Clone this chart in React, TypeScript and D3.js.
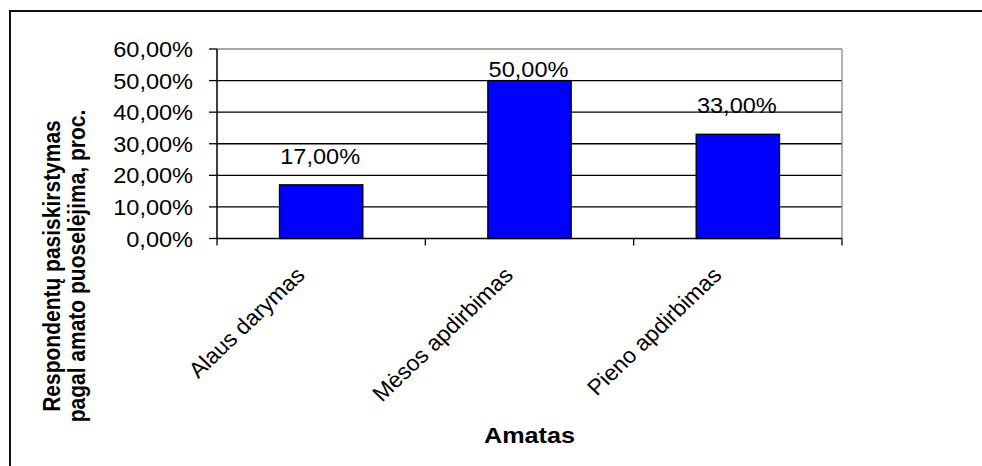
import React from "react";
import * as d3 from "d3";

// Respondents by craft (share of answers)
const categories: string[] = ["Alaus darymas", "Mėsos apdirbimas", "Pieno apdirbimas"];
const shares: number[] = [0.17, 0.5, 0.33];
const yTicks: number[] = [0, 0.1, 0.2, 0.3, 0.4, 0.5, 0.6];
const yTitleLines: string[] = ["Respondentų pasiskirstymas", "pagal amato puoselėjima, proc."];
const xTitle = "Amatas";

const W = 982;
const H = 466;
const plot = { left: 217, right: 842, top: 49, bottom: 238.5 };
const FONT = "'Liberation Sans', Arial, Helvetica, sans-serif";
const SX = 1.07; // slightly wide text rendering

const pct = (v: number) => (v * 100).toFixed(2).replace(".", ",") + "%";

export default function App() {
  const x = d3
    .scaleBand<string>()
    .domain(categories)
    .range([plot.left, plot.right])
    .paddingInner(0.6)
    .paddingOuter(0.3);
  const y = d3.scaleLinear().domain([0, 0.6]).range([plot.bottom, plot.top]);
  const step = (plot.right - plot.left) / categories.length;
  const boundaries = d3.range(categories.length + 1).map((i) => plot.left + i * step);

  return (
    <svg
      width={W}
      height={H}
      viewBox={`0 0 ${W} ${H}`}
      style={{ position: "absolute", left: 0, top: 0, background: "#fff" }}
    >
      {/* outer chart frame */}
      <rect x={10} y={11} width={1000} height={500} fill="none" stroke="#111" strokeWidth={2} />

      {/* gridlines */}
      {yTicks.slice(1, -1).map((t) => (
        <line key={t} x1={plot.left} x2={plot.right} y1={y(t)} y2={y(t)} stroke="#000" strokeWidth={1.3} />
      ))}
      {/* plot area top & right border */}
      <line x1={plot.left} x2={plot.right} y1={y(0.6)} y2={y(0.6)} stroke="#888" strokeWidth={1.3} />
      <line x1={plot.right} x2={plot.right} y1={plot.top} y2={plot.bottom} stroke="#888" strokeWidth={1.3} />

      {/* bars */}
      {categories.map((c, i) => (
        <rect
          key={c}
          x={x(c)}
          y={y(shares[i])}
          width={x.bandwidth()}
          height={plot.bottom - y(shares[i])}
          fill="#0000ff"
          stroke="#000"
          strokeWidth={1.3}
        />
      ))}

      {/* value labels */}
      {categories.map((c, i) => {
        const cx = (x(c) as number) + x.bandwidth() / 2 - 1;
        const by = Math.max(y(shares[i]) - 21, plot.top + 28);
        return (
          <text
            key={c}
            transform={`translate(${cx},${by}) scale(${SX},1)`}
            textAnchor="middle"
            fontFamily={FONT}
            fontSize={22}
            fill="#000"
          >
            {pct(shares[i])}
          </text>
        );
      })}

      {/* y axis */}
      <line x1={plot.left} x2={plot.left} y1={plot.top} y2={plot.bottom} stroke="#000" strokeWidth={1.5} />
      {yTicks.map((t) => (
        <g key={t}>
          <line x1={plot.left - 8} x2={plot.left} y1={y(t)} y2={y(t)} stroke="#000" strokeWidth={1.3} />
          <text
            transform={`translate(${plot.left - 24},${y(t) + 8}) scale(${SX},1)`}
            textAnchor="end"
            fontFamily={FONT}
            fontSize={22}
            fill="#000"
          >
            {pct(t)}
          </text>
        </g>
      ))}

      {/* x axis */}
      <line x1={plot.left} x2={plot.right} y1={plot.bottom} y2={plot.bottom} stroke="#000" strokeWidth={1.5} />
      {boundaries.map((bx, i) => (
        <line key={i} x1={bx} x2={bx} y1={plot.bottom} y2={plot.bottom + 7} stroke="#000" strokeWidth={1.3} />
      ))}
      {categories.map((c) => {
        const cx = (x(c) as number) + x.bandwidth() / 2;
        return (
          <text
            key={c}
            transform={`translate(${cx - 15},${plot.bottom + 38}) scale(1.05,1) rotate(-45)`}
            textAnchor="end"
            fontFamily={FONT}
            fontSize={22}
            fill="#000"
          >
            {c}
          </text>
        );
      })}

      {/* axis titles */}
      <text
        transform={`translate(${(plot.left + plot.right) / 2},443) scale(1.12,1)`}
        textAnchor="middle"
        fontFamily={FONT}
        fontSize={22.5}
        fontWeight="bold"
        fill="#000"
      >
        {xTitle}
      </text>
      {yTitleLines.map((line, i) => (
        <text
          key={line}
          transform={`translate(${60 + i * 25},266) scale(1.1,1) rotate(-90)`}
          textAnchor="middle"
          fontFamily={FONT}
          fontSize={21}
          fontWeight="bold"
          fill="#000"
        >
          {line}
        </text>
      ))}
    </svg>
  );
}
